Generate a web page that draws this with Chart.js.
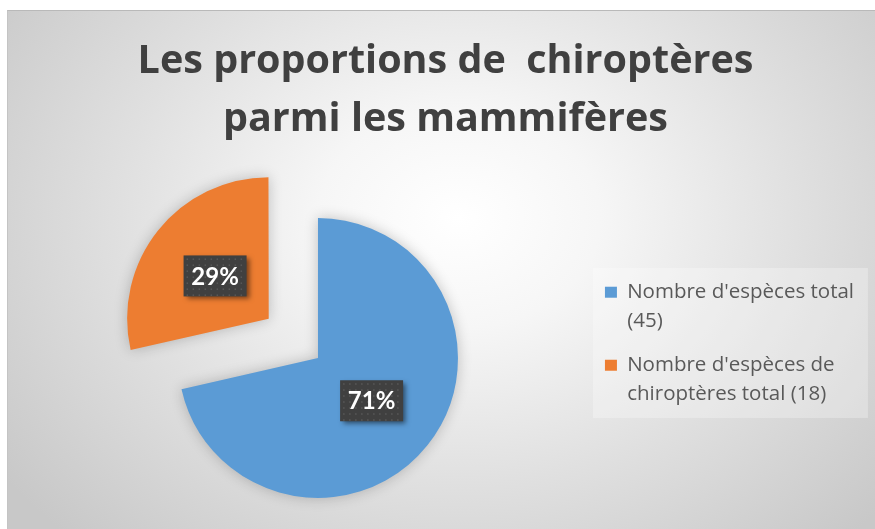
<!DOCTYPE html>
<html>
<head>
<meta charset="utf-8">
<script src="https://cdn.jsdelivr.net/npm/chart.js@4.4.0/dist/chart.umd.min.js"></script>
<style>
  html, body { margin: 0; padding: 0; background: #fff; }
  #wrap {
    position: absolute; left: 7px; top: 10px;
    width: 868px; height: 519px; box-sizing: border-box;
    border-top: 1px solid #b9b9b9; border-left: 1px solid #c4c4c4;
    background: radial-gradient(ellipse 65% 85% at 52% 40%, #ffffff 0%, #f6f6f6 25%, #e0e0e0 60%, #c8c8c8 100%);
  }
  canvas { display: block; }
</style>
</head>
<body>
<div id="wrap"><canvas id="mychart" width="867" height="518"></canvas></div>
<script>
// chart data
var titleLines = ['Les proportions de  chiroptères', 'parmi les mammifères'];
var categories = [
  ["Nombre d'espèces total", "(45)"],
  ["Nombre d'espèces de", "chiroptères total (18)"]
];
var speciesCounts = [45, 18];

// light box behind legend, shadow on the pie, dark % labels
var pieExtras = {
  id: 'pieExtras',
  afterLayout: function(chart) {
    // title is centred on the whole frame, not on frame minus legend
    chart.titleBlock.left -= 9.5;
    chart.titleBlock.right -= 9.5;
  },
  beforeDraw: function(chart) {
    var lg = chart.legend;
    if (!lg || !lg.legendHitBoxes || !lg.legendHitBoxes.length) return;
    var hb = lg.legendHitBoxes;
    var ctx = chart.ctx;
    ctx.save();
    ctx.fillStyle = 'rgba(255,255,255,0.28)';
    ctx.fillRect(lg.left + 3, hb[0].top - 14, 275, 150);
    ctx.restore();
  },
  beforeDatasetsDraw: function(chart) {
    var ctx = chart.ctx;
    ctx.save();
    ctx.shadowColor = 'rgba(0,0,0,0.22)';
    ctx.shadowBlur = 14;
  },
  afterDatasetsDraw: function(chart) {
    var ctx = chart.ctx;
    ctx.restore();

    var meta = chart.getDatasetMeta(0);
    var values = chart.data.datasets[0].data;
    var total = values.reduce(function(a, b) { return a + b; }, 0);

    meta.data.forEach(function(arc, i) {
      var p = arc.getProps(['x', 'y', 'startAngle', 'endAngle', 'outerRadius'], true);
      var mid = (p.startAngle + p.endAngle) / 2;
      // arcs are pushed out by offset / 4
      var off = (arc.options.offset || 0) / 4;
      var dist = off + p.outerRadius * 0.49;
      var cx = p.x + Math.cos(mid) * dist;
      var cy = p.y + Math.sin(mid) * dist;
      var w = 63, h = 41;
      var x0 = cx - w / 2, y0 = cy - h / 2;

      ctx.save();
      ctx.shadowColor = 'rgba(0,0,0,0.5)';
      ctx.shadowBlur = 5;
      ctx.shadowOffsetX = 3;
      ctx.shadowOffsetY = 3;
      ctx.fillStyle = '#404040';
      ctx.fillRect(x0, y0, w, h);
      ctx.restore();

      // dotted texture
      ctx.fillStyle = 'rgba(255,255,255,0.13)';
      for (var dx = 3; dx < w; dx += 6) {
        for (var dy = 3; dy < h; dy += 6) {
          ctx.fillRect(x0 + dx, y0 + dy, 1.5, 1.5);
        }
      }

      var pct = Math.round(values[i] / total * 100) + '%';
      ctx.fillStyle = '#ffffff';
      ctx.font = 'bold 24px Lato';
      ctx.textAlign = 'center';
      ctx.textBaseline = 'middle';
      ctx.fillText(pct, cx, cy + 1);
    });
  }
};

var ctx = document.getElementById('mychart');
var myChart = new Chart(ctx, {
  type: 'pie',
  data: {
    labels: categories,
    datasets: [{
      data: speciesCounts,
      backgroundColor: ['#5B9BD5', '#ED7D31'],
      borderWidth: 0,
      offset: [0, 252],
      clip: false
    }]
  },
  options: {
    responsive: false,
    animation: false,
    radius: 140,
    layout: { padding: { left: 38, right: 11, top: 0, bottom: 0 } },
    plugins: {
      title: {
        display: true,
        text: titleLines,
        color: '#404040',
        font: { family: 'Open Sans', size: 39.5, weight: 'bold', lineHeight: 1.468 },
        padding: { top: 21.5, bottom: 38.5 }
      },
      legend: {
        position: 'right',
        align: 'start',
        fullSize: false,
        title: { display: true, text: '', font: { size: 10, lineHeight: 1 }, padding: { top: 70, bottom: 0 } },
        labels: {
          boxWidth: 12,
          boxHeight: 11,
          padding: 15,
          color: '#595959',
          font: { family: 'Open Sans', size: 20.5, lineHeight: 1.415 }
        }
      },
      tooltip: { enabled: false }
    }
  },
  plugins: [pieExtras]
});
</script>
</body>
</html>
